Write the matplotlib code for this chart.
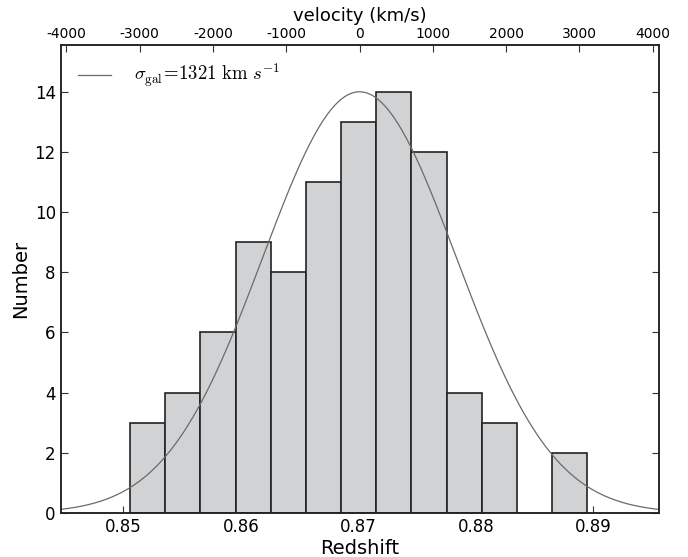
#!/usr/bin/env python3
import numpy as np
import matplotlib
matplotlib.use("Agg")
import matplotlib.pyplot as plt

# histogram data
bin_lo = 0.85057
bin_hi = 0.88949
counts = [3, 4, 6, 9, 8, 11, 13, 14, 12, 4, 3, 0, 2]

# gaussian fit parameters
z0 = 0.8701
sigma_kms = 1321
peak = 14

vel_ticks = [-4000, -3000, -2000, -1000, 0, 1000, 2000, 3000, 4000]
z_ticks = [0.85, 0.86, 0.87, 0.88, 0.89]
y_ticks = [0, 2, 4, 6, 8, 10, 12, 14]

C_KMS = 299792.458


def main():
    plt.rcParams["mathtext.fontset"] = "cm"
    plt.rcParams["axes.unicode_minus"] = False

    fig = plt.figure(figsize=(6.88, 5.57), dpi=100)
    ax = fig.add_axes([0.0882, 0.079, 0.8698, 0.840])

    edges = np.linspace(bin_lo, bin_hi, len(counts) + 1)
    for i, n in enumerate(counts):
        if n == 0:
            continue
        ax.bar(edges[i], n, width=edges[i + 1] - edges[i], align="edge",
               color="#d1d2d4", edgecolor="#222222", linewidth=1.2, zorder=2)

    xlim = (0.84467, 0.89559)
    zz = np.linspace(xlim[0], xlim[1], 400)
    sig_z = sigma_kms * (1 + z0) / C_KMS
    ax.plot(zz, peak * np.exp(-0.5 * ((zz - z0) / sig_z) ** 2), color="#6a6a6a",
            lw=0.9, zorder=3,
            label=r"$\sigma_{\rm gal}\!=\!1321\ {\rm km}\ s^{-1}$")

    ax.set_xlim(xlim)
    ax.set_ylim(0, 15.55)
    ax.set_xticks(z_ticks)
    ax.set_xticklabels([f"{t:.2f}" for t in z_ticks])
    ax.set_yticks(y_ticks)
    ax.tick_params(direction="in", labelsize=12, length=5, width=0.8,
                   right=True, top=False, color="#333333")
    ax.set_xlabel("Redshift", fontsize=14, labelpad=2)
    ax.set_ylabel("Number", fontsize=14, labelpad=3)

    # top velocity axis
    ax2 = ax.twiny()
    ax2.set_xlim([C_KMS * (z - z0) / (1 + z0) for z in xlim])
    ax2.set_xticks(vel_ticks)
    ax2.set_xticklabels([str(v) for v in vel_ticks])
    ax2.tick_params(direction="in", labelsize=10, length=5, width=0.8,
                    color="#333333", pad=3)
    ax2.set_xlabel("velocity (km/s)", fontsize=13, labelpad=4)

    for a in (ax, ax2):
        for s in a.spines.values():
            s.set_linewidth(1.1)
            s.set_color("#222222")

    ax.legend(loc="upper left", frameon=False, fontsize=13.5,
              handlelength=1.8, borderaxespad=0.5, handletextpad=1.2)

    fig.savefig("out.png", dpi=100)


if __name__ == "__main__":
    main()
